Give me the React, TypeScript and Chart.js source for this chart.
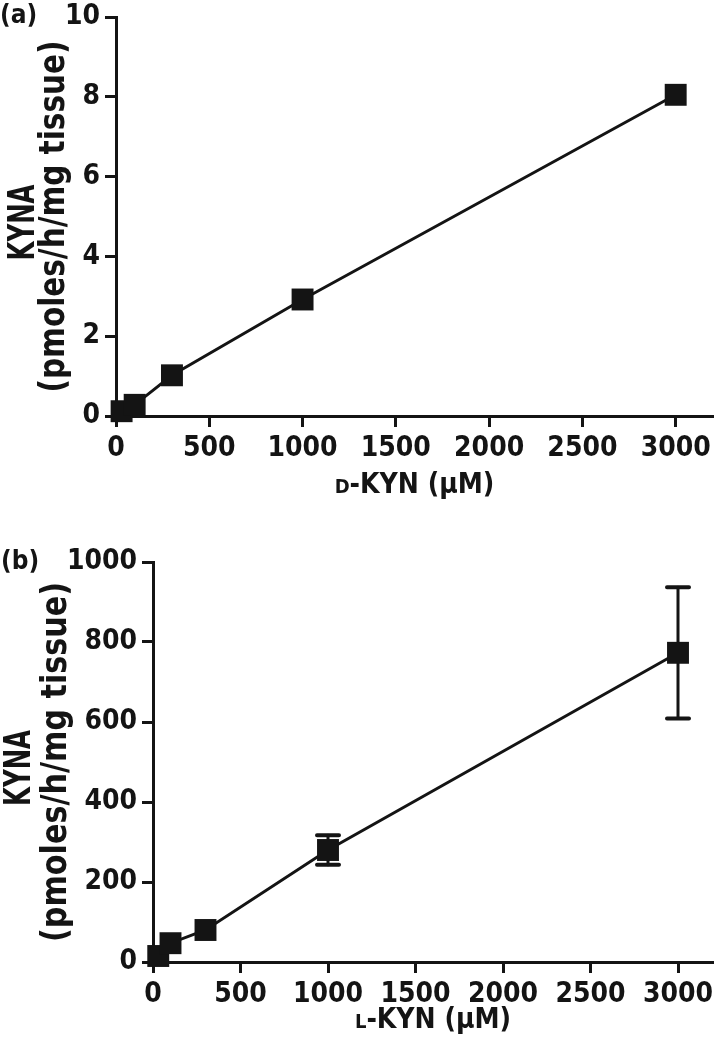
import React, { useEffect, useRef } from 'react';
import { Chart, registerables } from 'chart.js';

Chart.register(...registerables);

// ---- data ----
const dConc = [30, 100, 300, 1000, 3000];
const dKyna = [0.12, 0.28, 1.02, 2.92, 8.05];
const lConc = [30, 100, 300, 1000, 3000];
const lKyna = [15, 47, 80, 280, 773];
const lSem = [0, 0, 0, 37, 164];
const xTicks = [0, 500, 1000, 1500, 2000, 2500, 3000];
const dYTicks = [0, 2, 4, 6, 8, 10];
const lYTicks = [0, 200, 400, 600, 800, 1000];

const INK = '#141414';
const FAMILY = "'Liberation Sans Narrow', 'DejaVu Sans Condensed', 'Liberation Sans', Arial, sans-serif";

type PanelCfg = {
  label: string;
  xs: number[];
  ys: number[];
  sem: number[] | null;
  yTicks: number[];
  yMax: number;
  yWidth: number;
  top: number;
  bottom: number;
  xPrefix: string;
  xTitleBase: number;
  labelX: number;
  labelBase: number;
  line1Base: number;
  line1Len: number;
  line2Base: number;
  line2Len: number;
};

const H = 525;
const W = 714;

function drawRotated(ctx: CanvasRenderingContext2D, text: string, baseX: number, centerY: number, size: number, targetLen: number) {
  ctx.save();
  ctx.font = `bold ${size}px ${FAMILY}`;
  const w = ctx.measureText(text).width;
  ctx.translate(baseX, centerY);
  ctx.rotate(-Math.PI / 2);
  ctx.scale(targetLen / w, 1);
  ctx.textAlign = 'center';
  ctx.textBaseline = 'alphabetic';
  ctx.fillStyle = INK;
  ctx.fillText(text, 0, 0);
  ctx.restore();
}

function Panel({ cfg }: { cfg: PanelCfg }) {
  const ref = useRef<HTMLCanvasElement | null>(null);
  useEffect(() => {
    if (!ref.current) return;
    const errorBars = {
      id: 'errorBars',
      beforeDatasetsDraw(chart: any) {
        if (!cfg.sem) return;
        const ctx = chart.ctx;
        const xs = chart.scales.x;
        const ys = chart.scales.y;
        ctx.save();
        ctx.strokeStyle = INK;
        ctx.lineCap = 'round';
        cfg.xs.forEach((xv, i) => {
          const s = cfg.sem ? cfg.sem[i] : 0;
          if (!s) return;
          const px = xs.getPixelForValue(xv);
          const pTop = ys.getPixelForValue(cfg.ys[i] + s);
          const pBot = ys.getPixelForValue(cfg.ys[i] - s);
          ctx.lineWidth = 3;
          ctx.beginPath();
          ctx.moveTo(px, pTop);
          ctx.lineTo(px, pBot);
          ctx.stroke();
          ctx.lineWidth = 4;
          ctx.beginPath();
          ctx.moveTo(px - 11, pTop);
          ctx.lineTo(px + 11, pTop);
          ctx.moveTo(px - 11, pBot);
          ctx.lineTo(px + 11, pBot);
          ctx.stroke();
        });
        ctx.restore();
      },
    };
    const texts = {
      id: 'texts',
      afterDraw(chart: any) {
        const ctx = chart.ctx;
        const area = chart.chartArea;
        const cy = (area.top + area.bottom) / 2;
        ctx.save();
        ctx.fillStyle = INK;
        // panel label
        ctx.font = `bold 26px ${FAMILY}`;
        ctx.textAlign = 'left';
        ctx.textBaseline = 'alphabetic';
        ctx.fillText(cfg.label, cfg.labelX, cfg.labelBase);
        // x title with small-cap prefix
        const small = `bold 20px ${FAMILY}`;
        const big = `bold 28px ${FAMILY}`;
        const rest = '-KYN (\u03bcM)';
        ctx.font = small;
        const w1 = ctx.measureText(cfg.xPrefix).width;
        ctx.font = big;
        const w2 = ctx.measureText(rest).width;
        const cx = (area.left + area.right) / 2;
        const start = cx - (w1 + w2) / 2;
        ctx.textAlign = 'left';
        ctx.font = small;
        ctx.fillText(cfg.xPrefix, start, cfg.xTitleBase);
        ctx.font = big;
        ctx.fillText(rest, start + w1, cfg.xTitleBase);
        ctx.restore();
        // y title
        drawRotated(ctx, 'KYNA', cfg.line1Base, cy + 6, 38, cfg.line1Len);
        drawRotated(ctx, '(pmoles/h/mg tissue)', cfg.line2Base, cy, 36, cfg.line2Len);
      },
    };
    const chart = new Chart(ref.current, {
      type: 'line',
      data: {
        datasets: [
          {
            data: cfg.xs.map((x, i) => ({ x, y: cfg.ys[i] })),
            borderColor: INK,
            backgroundColor: INK,
            borderWidth: 3,
            pointStyle: 'rect',
            pointRadius: 15.5,
            pointBorderWidth: 0,
            pointBackgroundColor: INK,
            tension: 0,
            clip: false as any,
          },
        ],
      },
      options: {
        animation: false,
        responsive: false,
        devicePixelRatio: 1,
        events: [],
        layout: { autoPadding: false, padding: { top: cfg.top, right: 1, left: 0, bottom: 0 } },
        plugins: { legend: { display: false }, tooltip: { enabled: false }, title: { display: false } },
        scales: {
          x: {
            type: 'linear',
            min: 0,
            max: 3200,
            afterBuildTicks: (s: any) => {
              s.ticks = xTicks.map((v) => ({ value: v }));
            },
            afterFit: (s: any) => {
              s.height = H - cfg.bottom;
              s.paddingLeft = 0;
              s.paddingRight = 0;
            },
            grid: { drawOnChartArea: false, drawTicks: true, tickLength: 11, tickWidth: 3, tickColor: INK },
            border: { display: true, color: INK, width: 3 },
            ticks: {
              color: INK,
              font: { family: FAMILY, size: 28, weight: 'bold' },
              padding: 5,
              maxRotation: 0,
              autoSkip: false,
              callback: (v: any) => String(v),
            },
          },
          y: {
            type: 'linear',
            min: 0,
            max: cfg.yMax,
            afterBuildTicks: (s: any) => {
              s.ticks = cfg.yTicks.map((v) => ({ value: v }));
            },
            afterFit: (s: any) => {
              s.width = cfg.yWidth;
              s.paddingTop = 0;
              s.paddingBottom = 0;
            },
            grid: { drawOnChartArea: false, drawTicks: true, tickLength: 11, tickWidth: 3, tickColor: INK },
            border: { display: true, color: INK, width: 3 },
            ticks: {
              color: INK,
              font: { family: FAMILY, size: 28, weight: 'bold' },
              padding: 5,
              autoSkip: false,
              callback: (v: any) => String(v),
            },
          },
        },
      },
      plugins: [errorBars, texts],
    } as any);
    return () => chart.destroy();
  }, [cfg]);
  return <canvas ref={ref} width={W} height={H} style={{ display: 'block', width: W, height: H }} />;
}

const panelA: PanelCfg = {
  label: '(a)',
  xs: dConc,
  ys: dKyna,
  sem: null,
  yTicks: dYTicks,
  yMax: 10,
  yWidth: 116,
  top: 17,
  bottom: 416,
  xPrefix: 'D',
  xTitleBase: 493,
  labelX: 0,
  labelBase: 23,
  line1Base: 34,
  line1Len: 76,
  line2Base: 64,
  line2Len: 352,
};

const panelB: PanelCfg = {
  label: '(b)',
  xs: lConc,
  ys: lKyna,
  sem: lSem,
  yTicks: lYTicks,
  yMax: 1000,
  yWidth: 153,
  top: 37,
  bottom: 437,
  xPrefix: 'L',
  xTitleBase: 503,
  labelX: 1,
  labelBase: 44,
  line1Base: 30,
  line1Len: 76,
  line2Base: 66,
  line2Len: 360,
};

export default function App() {
  return (
    <div style={{ position: 'absolute', left: 0, top: 0, width: W, height: 2 * H, background: '#fff' }}>
      <Panel cfg={panelA} />
      <Panel cfg={panelB} />
    </div>
  );
}
